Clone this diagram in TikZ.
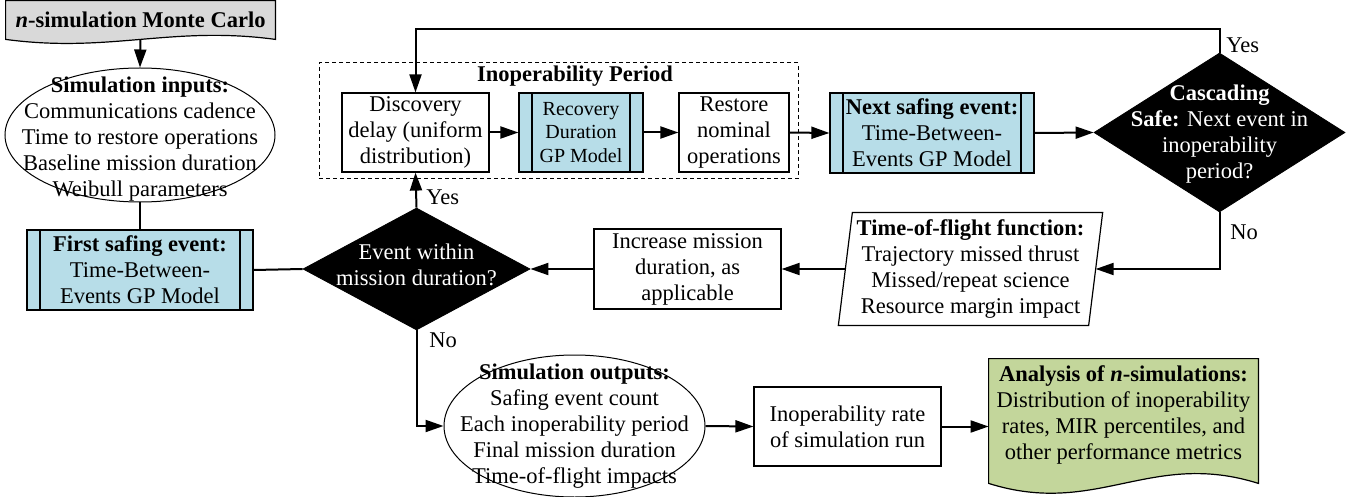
\documentclass[tikz,border=0pt]{standalone}
\usepackage{fontspec}
\setmainfont{Liberation Serif}
\usetikzlibrary{shapes.geometric,arrows.meta,calc,backgrounds}
\definecolor{gpblue}{RGB}{183,221,232}
\definecolor{docgreen}{RGB}{195,214,155}
\definecolor{docgray}{RGB}{217,217,217}
\tikzset{
  txt/.style={font=\fontsize{11.25}{13}\selectfont, align=center, inner sep=0pt},
  box/.style={txt, draw, line width=0.6pt, rectangle},
  gpbox/.style={box, fill=gpblue,
    path picture={\draw[line width=0.6pt]
      ([xshift=6.5pt]path picture bounding box.north west) -- ([xshift=6.5pt]path picture bounding box.south west)
      ([xshift=-6.5pt]path picture bounding box.north east) -- ([xshift=-6.5pt]path picture bounding box.south east);}},
  decision/.style={diamond, fill=black, draw, inner sep=0pt},
  dtext/.style={txt, text=white},
  oval/.style={ellipse, draw, line width=0.5pt, inner sep=0pt},
  conn/.style={line width=1pt},
  arr/.style={conn, -{Triangle[length=9pt,width=6pt]}},
  lbl/.style={txt, anchor=west}
}
\begin{document}
\begin{tikzpicture}[x=0.5pt,y=-0.5pt]
  \useasboundingbox (0,0) rectangle (1347,497);

  \node[txt, minimum width=134.5pt, minimum height=19pt] (mc) at (140.5,20) {\textbf{\textit{n}-simulation Monte Carlo}};
  \node[oval, minimum width=135pt, minimum height=67pt] (inputs) at (140,135) {};
  \node[txt] (inputs-t) at (140,139) {\textbf{Simulation inputs:}\\Communications cadence\\Time to restore operations\\Baseline mission duration\\Weibull parameters};
  \node[gpbox, minimum width=113pt, minimum height=40pt] (first) at (140,270) {\textbf{First safing event:}\\Time-Between-\\Events GP Model};

  \node[decision, minimum width=113.5pt, minimum height=61pt] (event) at (416.5,269) {};
  \node[dtext] (event-t) at (416.5,265) {Event within\\mission duration?};

  \node[box, dashed, dash pattern=on 2pt off 1.5pt, line width=0.5pt, minimum width=239.5pt, minimum height=58pt] (period) at (558.5,121) {};
  \node[txt] (period-t) at (575,76) {\textbf{Inoperability Period}};
  \node[box, fill=white, minimum width=73.5pt, minimum height=39.5pt] (discovery) at (415.5,132.5) {Discovery\\delay (uniform\\distribution)};
  \node[gpbox, minimum width=62pt, minimum height=39.5pt, font=\fontsize{10}{11.75}\selectfont] (recovery) at (581,132.5) {Recovery\\Duration\\GP Model};
  \node[box, fill=white, minimum width=55pt, minimum height=39.5pt] (restore) at (734,132.5) {Restore\\nominal\\operations};
  \node[gpbox, minimum width=102pt, minimum height=40pt] (next) at (932,133) {\textbf{Next safing event:}\\Time-Between-\\Events GP Model};

  \node[decision, minimum width=125.5pt, minimum height=79.5pt] (casc) at (1219.5,132.5) {};
  \node[dtext] (casc-t) at (1219.5,134.5) {\textbf{Cascading}\\\textbf{Safe:} Next event in\\inoperability\\period?};

  \node[txt, minimum width=124.75pt, minimum height=56pt] (tof) at (970.5,269) {\textbf{Time-of-flight function:}\\Trajectory missed thrust\\Missed/repeat science\\Resource margin impact};
  \node[box, fill=white, minimum width=93.5pt, minimum height=40pt] (increase) at (687.5,269) {Increase mission\\duration, as\\applicable};

  \node[oval, minimum width=130.5pt, minimum height=71pt] (outputs) at (574.5,426) {};
  \node[txt] (outputs-t) at (574.5,426) {\textbf{Simulation outputs:}\\Safing event count\\Each inoperability period\\Final mission duration\\Time-of-flight impacts};
  \node[box, fill=white, minimum width=93.5pt, minimum height=39.5pt] (rate) at (847.5,426.5) {Inoperability rate\\of simulation run};
  \node[txt, minimum width=134.5pt, minimum height=56pt] (analysis) at (1123.5,415) {\textbf{Analysis of \textit{n}-simulations:}\\Distribution of inoperability\\rates, MIR percentiles, and\\other performance metrics};

  \begin{scope}[on background layer]
    \filldraw[fill=docgray, line width=0.6pt] (mc.south west) -- (mc.north west) -- (mc.north east) -- (mc.south east)
      .. controls ($(mc.south east)+(-52pt,7pt)$) and ($(mc.south west)+(52pt,-7pt)$) .. (mc.south west) -- cycle;
    \filldraw[fill=docgreen, line width=0.6pt] ($(analysis.south west)+(0,-6pt)$) -- (analysis.north west) -- (analysis.north east) -- ($(analysis.south east)+(0,-6pt)$)
      .. controls ($(analysis.south east)+(-54pt,11pt)$) and ($(analysis.south west)+(54pt,-23pt)$) .. ($(analysis.south west)+(0,-6pt)$) -- cycle;
    \filldraw[fill=white, line width=0.6pt] ($(tof.north west)+(3.5pt,0)$) -- ($(tof.north east)+(3.5pt,0)$)
      -- ($(tof.south east)+(-3.5pt,0)$) -- ($(tof.south west)+(-3.5pt,0)$) -- cycle;
  \end{scope}

  \draw[arr] (mc.south) -- (inputs.north);
  \draw[conn] (inputs.south) -- (first.north);
  \draw[conn] (first.east) -- (event.west);
  \draw[arr] (event.north) -- (discovery.south);
  \node[lbl] (yes-a) at (426,197) {Yes};
  \draw[arr] (discovery.east) -- (recovery.west);
  \draw[arr] (recovery.east) -- (restore.west);
  \draw[arr] (restore.east) -- (next.west);
  \draw[arr] (next.east) -- (casc.west);
  \draw[arr] (casc.north) -- ++(0,-24) -| (discovery.north);
  \node[lbl] (yes-b) at (1226,45) {Yes};
  \draw[arr] (casc.south) |- (tof.east);
  \node[lbl] (no-b) at (1230,232) {No};
  \draw[arr] (tof.west) -- (increase.east);
  \draw[arr] (increase.west) -- (event.east);
  \draw[arr] (event.south) |- (outputs.west);
  \node[lbl] (no-a) at (429,340) {No};
  \draw[arr] (outputs.east) -- (rate.west);
  \draw[arr] (rate.east) -- (rate.east -| analysis.west);
\end{tikzpicture}
\end{document}
